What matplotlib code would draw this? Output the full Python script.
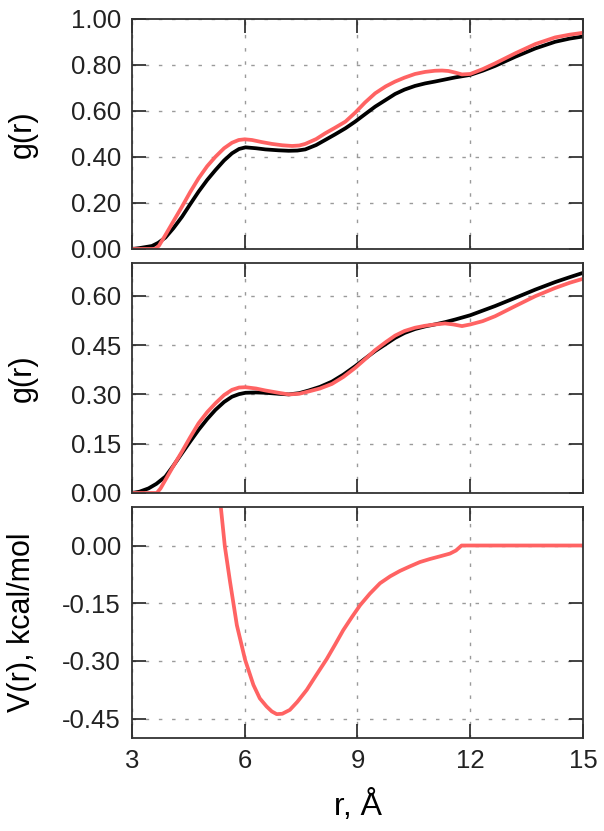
import numpy as np
import matplotlib
matplotlib.use('Agg')
import matplotlib.pyplot as plt
from matplotlib.ticker import FormatStrFormatter

plt.rcParams['font.family'] = ['Liberation Sans', 'DejaVu Sans']
plt.rcParams['axes.unicode_minus'] = False

# top panel g(r)
r_top_black = [3.0, 3.2, 3.53, 3.7, 3.89, 4.1, 4.33, 4.55, 4.77, 5.0, 5.22, 5.45, 5.66, 5.85, 6.02, 6.3,
               6.55, 6.9, 7.17, 7.4, 7.61, 7.9, 8.14, 8.4, 8.68, 8.94, 9.2, 9.47, 9.75, 10.0, 10.25,
               10.53, 10.8, 11.06, 11.33, 11.6, 12.0, 12.33, 12.66, 13.2, 13.73, 14.26, 14.65, 15.0]
g_top_black = [0.0, 0.004, 0.013, 0.027, 0.05, 0.09, 0.14, 0.195, 0.249, 0.3, 0.343, 0.385, 0.416, 0.435,
               0.442, 0.438, 0.433, 0.429, 0.427, 0.428, 0.433, 0.452, 0.474, 0.498, 0.525, 0.554, 0.586,
               0.619, 0.648, 0.674, 0.693, 0.709, 0.72, 0.728, 0.737, 0.746, 0.757, 0.775, 0.796, 0.836,
               0.872, 0.901, 0.915, 0.924]
r_top_red = [3.0, 3.62, 3.72, 3.89, 4.1, 4.33, 4.55, 4.77, 5.0, 5.22, 5.45, 5.66, 5.84, 6.0, 6.19, 6.45,
             6.72, 7.0, 7.26, 7.45, 7.61, 7.9, 8.14, 8.4, 8.68, 8.94, 9.2, 9.47, 9.75, 10.0, 10.25,
             10.53, 10.8, 11.06, 11.25, 11.42, 11.6, 11.78, 12.0, 12.33, 12.66, 13.2, 13.73, 14.26,
             14.65, 15.0]
g_top_red = [0.0, 0.0, 0.015, 0.061, 0.12, 0.184, 0.248, 0.307, 0.36, 0.401, 0.438, 0.462, 0.474, 0.477,
             0.474, 0.465, 0.457, 0.451, 0.448, 0.45, 0.457, 0.478, 0.503, 0.527, 0.554, 0.593, 0.637,
             0.677, 0.707, 0.728, 0.745, 0.761, 0.77, 0.775, 0.776, 0.774, 0.767, 0.759, 0.761, 0.782,
             0.807, 0.851, 0.891, 0.92, 0.932, 0.94]

# middle panel g(r)
r_mid_black = [3.0, 3.2, 3.44, 3.65, 3.89, 4.1, 4.33, 4.55, 4.77, 5.0, 5.22, 5.45, 5.66, 5.85, 6.02, 6.3,
               6.55, 6.9, 7.17, 7.45, 7.7, 8.0, 8.32, 8.62, 8.94, 9.2, 9.47, 9.75, 10.0, 10.25, 10.53,
               10.8, 11.06, 11.33, 11.6, 12.0, 12.33, 12.66, 13.2, 13.73, 14.26, 14.65, 15.0]
g_mid_black = [0.0, 0.004, 0.014, 0.028, 0.05, 0.083, 0.121, 0.157, 0.192, 0.225, 0.253, 0.277, 0.293,
               0.301, 0.305, 0.306, 0.305, 0.302, 0.30, 0.304, 0.312, 0.323, 0.339, 0.36, 0.386, 0.409,
               0.432, 0.453, 0.472, 0.487, 0.499, 0.507, 0.513, 0.52, 0.528, 0.541, 0.555, 0.569, 0.594,
               0.619, 0.642, 0.657, 0.67]
r_mid_red = [3.0, 3.66, 3.76, 3.89, 4.1, 4.33, 4.55, 4.77, 5.0, 5.22, 5.45, 5.66, 5.85, 6.02, 6.3,
             6.55, 6.9, 7.17, 7.45, 7.7, 8.0, 8.32, 8.62, 8.94, 9.2, 9.47, 9.75, 10.0, 10.25, 10.53,
             10.8, 11.06, 11.33, 11.55, 11.78, 12.0, 12.33, 12.66, 13.2, 13.73, 14.26, 14.65, 15.0]
g_mid_red = [0.0, 0.0, 0.014, 0.04, 0.082, 0.126, 0.17, 0.212, 0.246, 0.273, 0.298, 0.314, 0.321, 0.322,
             0.318, 0.312, 0.305, 0.30, 0.302, 0.309, 0.318, 0.332, 0.353, 0.381, 0.407, 0.435, 0.459,
             0.479, 0.493, 0.503, 0.509, 0.513, 0.516, 0.513, 0.508, 0.513, 0.523, 0.538, 0.569, 0.599,
             0.624, 0.64, 0.652]

# bottom panel V(r)
r_pot = [5.25, 5.36, 5.47, 5.61, 5.79, 6.01, 6.23, 6.4, 6.58, 6.72, 6.85, 7.0, 7.2, 7.4, 7.65, 7.9,
         8.18, 8.4, 8.62, 8.85, 9.07, 9.33, 9.6, 9.87, 10.13, 10.4, 10.66, 10.93, 11.2, 11.46, 11.62,
         11.77, 12.0, 15.0]
v_pot = [0.2, 0.103, -0.002, -0.095, -0.207, -0.297, -0.362, -0.397, -0.418, -0.431, -0.438, -0.437,
         -0.427, -0.406, -0.375, -0.337, -0.295, -0.258, -0.22, -0.186, -0.155, -0.125, -0.098, -0.08,
         -0.066, -0.054, -0.043, -0.035, -0.028, -0.021, -0.013, 0.0, 0.0, 0.0]

red = '#ff6363'
xticks = [3, 6, 9, 12, 15]

fig = plt.figure(figsize=(6.04, 8.31), dpi=100)
ax1 = fig.add_axes([132 / 604, 1 - 249 / 831, 451 / 604, 230 / 831])
ax2 = fig.add_axes([132 / 604, 1 - 493 / 831, 451 / 604, 230 / 831])
ax3 = fig.add_axes([132 / 604, 1 - 738 / 831, 451 / 604, 231 / 831])


def style(ax, yticks, ylim):
    ax.set_xlim(3, 15)
    ax.set_ylim(*ylim)
    ax.set_xticks(xticks)
    ax.set_yticks(yticks)
    ax.yaxis.set_major_formatter(FormatStrFormatter('%.2f'))
    ax.tick_params(direction='in', length=10, width=1.2, top=True, right=True,
                   labelsize=18.5, pad=8, colors='#222222')
    ax.grid(True, color='#9a9a9a', linewidth=1.0, linestyle=(0, (2.5, 7)))
    for s in ax.spines.values():
        s.set_linewidth(1.3)
        s.set_color('#333333')
        s.set_zorder(5)


style(ax1, [0, 0.2, 0.4, 0.6, 0.8, 1.0], (0, 1.0))
ax1.plot(r_top_black, g_top_black, color='black', lw=2.7, zorder=3)
ax1.plot(r_top_red, g_top_red, color=red, lw=2.7, zorder=4)
ax1.tick_params(labelbottom=False)
ax1.set_ylabel('g(r)', fontsize=22)

style(ax2, [0, 0.15, 0.3, 0.45, 0.6], (0, 0.70))
ax2.plot(r_mid_black, g_mid_black, color='black', lw=2.7, zorder=3)
ax2.plot(r_mid_red, g_mid_red, color=red, lw=2.7, zorder=4)
ax2.tick_params(labelbottom=False)
ax2.set_ylabel('g(r)', fontsize=22)

style(ax3, [0, -0.15, -0.3, -0.45], (-0.5, 0.1))
ax3.plot(r_pot, v_pot, color=red, lw=2.7, zorder=4)
ax3.set_ylabel('V(r), kcal/mol', fontsize=22)
ax3.set_xlabel('r, Å', fontsize=23, labelpad=12)

for ax in (ax1, ax2, ax3):
    ax.yaxis.set_label_coords(-0.21, 0.5)

fig.savefig('out.png', dpi=100)
